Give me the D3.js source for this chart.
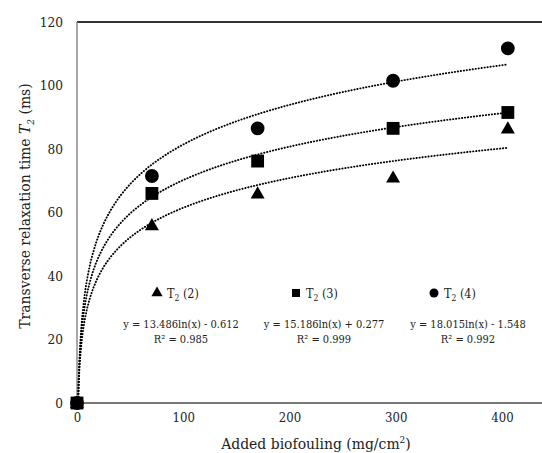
<!doctype html>
<html lang="en">
  <head>
    <meta charset="utf-8">
    <title>Transverse relaxation time vs added biofouling</title>
    <style>
      body { margin: 0; background: #fff; }
    </style>
  </head>
  <body>
    <div id="chart"></div>

    <script src="https://d3js.org/d3.v7.min.js"></script>
    <script>
    // values
    var biofouling = [0, 70.5, 170, 297.5, 405.5];
    var t2_2 = [0, 56, 66, 71, 86.5];
    var t2_3 = [0, 66, 76.2, 86.5, 91.5];
    var t2_4 = [0, 71.5, 86.5, 101.5, 111.7];
    var seriesNames = ["T2 (2)", "T2 (3)", "T2 (4)"];
    var fitA = [13.486, 15.186, 18.015];
    var fitB = [-0.612, 0.277, -1.548];
    var equations = ["y = 13.486ln(x) - 0.612", "y = 15.186ln(x) + 0.277", "y = 18.015ln(x) - 1.548"];
    var r2Labels = ["R\u00b2 = 0.985", "R\u00b2 = 0.999", "R\u00b2 = 0.992"];
    var xTicks = [0, 100, 200, 300, 400];
    var yTicks = [0, 20, 40, 60, 80, 100, 120];

    var width = 542, height = 453;
    var serif = "'DejaVu Serif Condensed', 'DejaVu Serif', serif";
    var svg = d3.select("#chart").append("svg")
        .attr("width", width)
        .attr("height", height)
        .attr("font-family", serif)
        .style("font-stretch", "condensed");

    var x = d3.scaleLinear().domain([0, 400]).range([77, 502]);
    var y = d3.scaleLinear().domain([0, 120]).range([403, 22]);

    // frame lines
    svg.append("line")
      .attr("x1", x(0)).attr("x2", width)
      .attr("y1", y(120)).attr("y2", y(120))
      .attr("stroke", "#333").attr("stroke-width", 2);
    svg.append("line")
      .attr("x1", x(0)).attr("x2", x(0))
      .attr("y1", y(120)).attr("y2", y(0))
      .attr("stroke", "#8a8a8a").attr("stroke-width", 1.5);
    svg.append("line")
      .attr("x1", x(0)).attr("x2", width)
      .attr("y1", y(0)).attr("y2", y(0))
      .attr("stroke", "#777").attr("stroke-width", 1.8);

    // tick labels
    svg.append("g").attr("transform", "translate(0," + y(0) + ")")
      .call(d3.axisBottom(x).tickValues(xTicks).tickSize(0).tickPadding(10))
      .attr("font-family", serif)
      .call(g => g.select(".domain").remove())
      .selectAll("text")
      .attr("font-size", 13).attr("fill", "#222");

    svg.append("g").attr("transform", "translate(" + x(0) + ",0)")
      .call(d3.axisLeft(y).tickValues(yTicks).tickSize(0).tickPadding(14))
      .attr("font-family", serif)
      .call(g => g.select(".domain").remove())
      .selectAll("text")
      .attr("font-size", 13.5).attr("fill", "#222");

    // trendlines (log fits from the equations)
    var line = d3.line().x(d => x(d[0])).y(d => y(d[1]));
    var xs = d3.range(1, 10, 0.25).concat(d3.range(10, 406, 2)).concat([405.5]);
    fitA.forEach(function(a, i) {
      var pts = xs.map(v => [v, a * Math.log(v) + fitB[i]]).filter(p => p[1] >= 0);
      pts.unshift([0.98, 0]);
      svg.append("path")
        .attr("d", line(pts))
        .attr("fill", "none")
        .attr("stroke", "#000")
        .attr("stroke-width", 1.9)
        .attr("stroke-linecap", "round")
        .attr("stroke-dasharray", "0.3,2.7");
    });

    // markers
    var sym = [d3.symbolTriangle, d3.symbolSquare, d3.symbolCircle];
    var symSize = [85, 165, 150];
    [t2_2, t2_3, t2_4].forEach(function(vals, i) {
      svg.append("g").selectAll("path")
        .data(vals.map((v, j) => [biofouling[j], v]))
        .join("path")
        .attr("transform", d => "translate(" + x(d[0]) + "," + (y(d[1]) + (i === 0 ? 1 : 0)) + ")")
        .attr("d", d3.symbol().type(sym[i]).size(symSize[i]))
        .attr("fill", "#000");
    });

    // legend + equations
    var legX = [157, 296, 434];
    var legSize = [55, 64, 64];
    var eqX = [181, 324, 468];
    seriesNames.forEach(function(name, i) {
      svg.append("path")
        .attr("transform", "translate(" + legX[i] + ",293)")
        .attr("d", d3.symbol().type(sym[i]).size(legSize[i]))
        .attr("fill", "#000");
      var t = svg.append("text")
        .attr("x", legX[i] + 10).attr("y", 298)
        .attr("font-size", 12.5).attr("fill", "#222");
      t.append("tspan").text("T");
      t.append("tspan").attr("font-size", 8.5).attr("dy", 3).text("2");
      t.append("tspan").attr("dy", -3).text(name.slice(2));
      svg.append("text")
        .attr("x", eqX[i]).attr("y", 328)
        .attr("text-anchor", "middle")
        .attr("font-size", 11).attr("fill", "#222")
        .text(equations[i]);
      svg.append("text")
        .attr("x", eqX[i]).attr("y", 343)
        .attr("text-anchor", "middle")
        .attr("font-size", 11).attr("fill", "#222")
        .text(r2Labels[i]);
    });

    // axis titles
    var xt = svg.append("text")
      .attr("x", 316).attr("y", 449)
      .attr("text-anchor", "middle")
      .attr("font-size", 15.5).attr("fill", "#222");
    xt.append("tspan").text("Added biofouling (mg/cm");
    xt.append("tspan").attr("font-size", 10).attr("dy", -6).text("2");
    xt.append("tspan").attr("dy", 6).text(")");

    var yt = svg.append("text")
      .attr("transform", "translate(30,206) rotate(-90)")
      .attr("text-anchor", "middle")
      .attr("font-size", 15.5).attr("fill", "#222");
    yt.append("tspan").text("Transverse relaxation time ");
    yt.append("tspan").attr("font-style", "italic").text("T");
    yt.append("tspan").attr("font-style", "italic").attr("font-size", 10).attr("dy", 4).text("2");
    yt.append("tspan").attr("dy", -4).text(" (ms)");
    </script>
  </body>
</html>
